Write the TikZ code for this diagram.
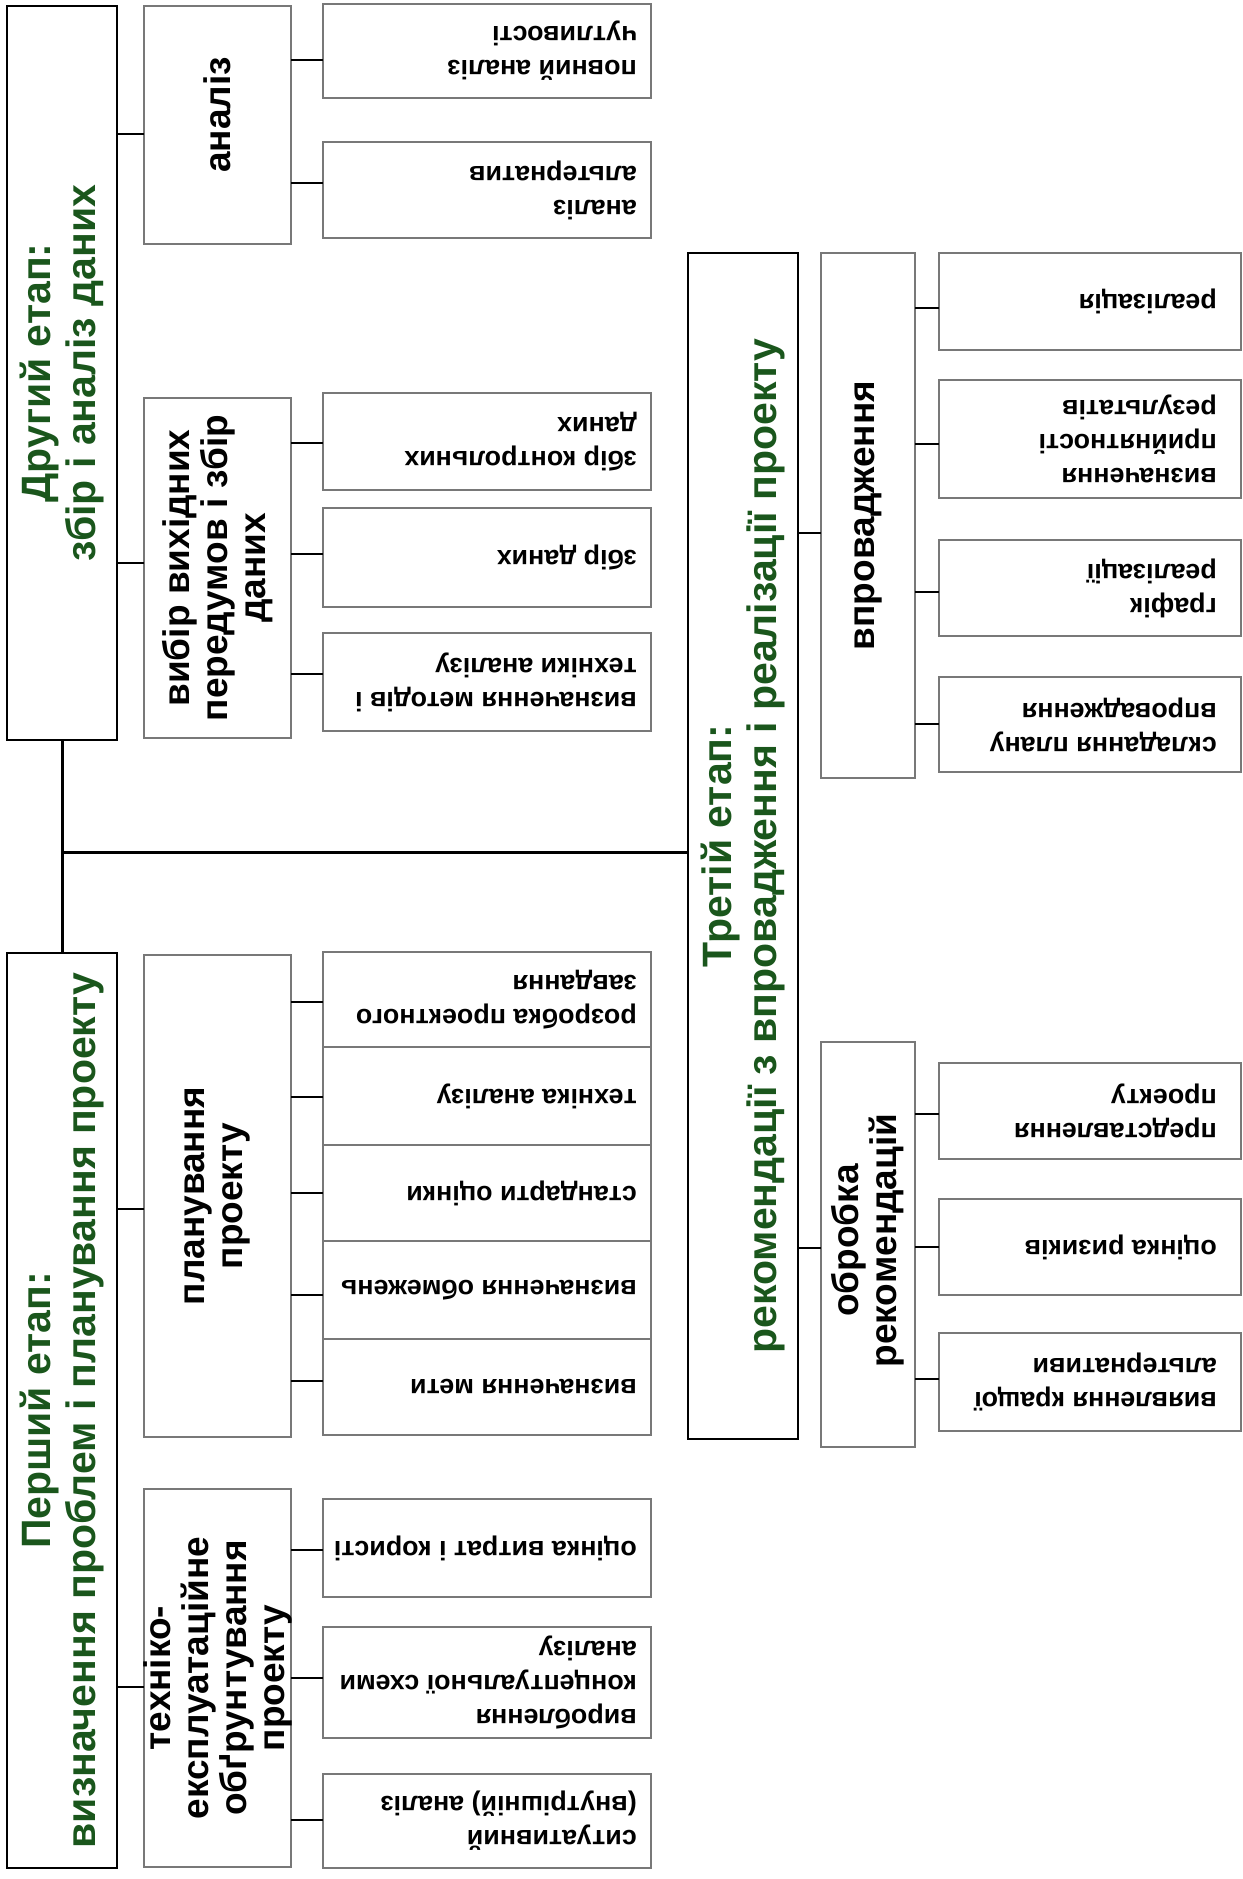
\documentclass[tikz,border=0pt]{standalone}
\usepackage{fontspec}
\setmainfont{Liberation Sans}
\definecolor{stagegreen}{HTML}{1A561C}
\definecolor{boxgray}{RGB}{120,120,120}
\newcommand{\mkbox}[6]{\node[#1, anchor=north west, minimum width={#5-#3}, minimum height={#6-#4}] (#2) at (#3,#4) {};}
\newcommand{\leaftxt}[3]{\node[leaftext, anchor=west] at ([xshift=-#2]#1.east) {#3};}
\begin{document}
\begin{tikzpicture}[x=1pt,y=-1pt,
  stagebox/.style={draw=black, line width=2pt, inner sep=0pt, outer sep=0pt},
  midbox/.style={draw=boxgray, line width=1.6pt, inner sep=0pt, outer sep=0pt},
  leafbox/.style={draw=boxgray, line width=1.6pt, inner sep=0pt, outer sep=0pt},
  conn/.style={draw=black, line width=2.5pt},
  trunkline/.style={draw=black, line width=3pt},
  stagetext/.style={rotate=90, align=center, text=stagegreen, inner sep=0pt,
    font=\fontsize{41}{45}\selectfont\bfseries},
  midtext/.style={rotate=90, align=center, text=black, inner sep=0pt,
    font=\fontsize{37}{38}\selectfont\bfseries},
  leaftext/.style={rotate=180, align=left, text=black, inner sep=0pt,
    font=\fontsize{26.8}{34}\selectfont\bfseries}]
\useasboundingbox (0,0) rectangle (1242,1879);

% ---- stage boxes
\mkbox{stagebox}{s2}{7}{6}{117}{740}
\mkbox{stagebox}{s1}{7}{953}{117}{1868}
\mkbox{stagebox}{s3}{688}{253}{798}{1439}

% ---- middle boxes
\mkbox{midbox}{man}{144}{6}{291}{244}
\mkbox{midbox}{mvy}{144}{398}{291}{738}
\mkbox{midbox}{mpl}{144}{955}{291}{1437}
\mkbox{midbox}{mte}{144}{1489}{291}{1867}
\mkbox{midbox}{mvp}{821}{253}{915}{778}
\mkbox{midbox}{mob}{821}{1042}{915}{1447}

% ---- leaf boxes, left column
\mkbox{leafbox}{l1}{323}{4}{651}{98}
\mkbox{leafbox}{l2}{323}{142}{651}{238}
\mkbox{leafbox}{l3}{323}{393}{651}{490}
\mkbox{leafbox}{l4}{323}{508}{651}{607}
\mkbox{leafbox}{l5}{323}{633}{651}{731}
\mkbox{leafbox}{l6}{323}{952}{651}{1047}
\mkbox{leafbox}{l7}{323}{1047}{651}{1145}
\mkbox{leafbox}{l8}{323}{1145}{651}{1241}
\mkbox{leafbox}{l9}{323}{1241}{651}{1339}
\mkbox{leafbox}{l10}{323}{1339}{651}{1435}
\mkbox{leafbox}{l11}{323}{1499}{651}{1597}
\mkbox{leafbox}{l12}{323}{1627}{651}{1738}
\mkbox{leafbox}{l13}{323}{1774}{651}{1868}

% ---- leaf boxes, right column
\mkbox{leafbox}{r1}{939}{253}{1241}{350}
\mkbox{leafbox}{r2}{939}{380}{1241}{498}
\mkbox{leafbox}{r3}{939}{540}{1241}{636}
\mkbox{leafbox}{r4}{939}{677}{1241}{772}
\mkbox{leafbox}{r5}{939}{1063}{1241}{1159}
\mkbox{leafbox}{r6}{939}{1199}{1241}{1295}
\mkbox{leafbox}{r7}{939}{1333}{1241}{1431}

% ---- stage texts
\node[stagetext] at (s2) {Другий етап:\\збір і аналіз даних};
\node[stagetext] at (s1) {Перший етап:\\визначення проблем і планування проекту};
\node[stagetext] at (s3) {Третій етап:\\рекомендації з впровадження і реалізації проекту};

% ---- middle texts
\node[midtext] at ([yshift=10pt]man.center) {аналіз};
\node[midtext] at (mvy) {вибір вихідних\\передумов і збір\\даних};
\node[midtext] at (mpl) {планування\\проекту};
\node[midtext] at (mte) {техніко-\\експлуатаційне\\обґрунтування\\проекту};
\node[midtext] at (mvp) {впровадження};
\node[midtext] at ([yshift=4pt]mob.center) {обробка\\рекомендацій};

% ---- leaf texts
\leaftxt{l1}{14pt}{повний аналіз\\чутливості}
\leaftxt{l2}{14pt}{аналіз\\альтернатив}
\leaftxt{l3}{14pt}{збір контрольних\\даних}
\leaftxt{l4}{14pt}{збір даних}
\leaftxt{l5}{14pt}{визначення методів і\\техніки аналізу}
\leaftxt{l6}{14pt}{розробка проектного\\завдання}
\leaftxt{l7}{14pt}{техніка аналізу}
\leaftxt{l8}{14pt}{стандарти оцінки}
\leaftxt{l9}{14pt}{визначення обмежень}
\leaftxt{l10}{14pt}{визначення мети}
\leaftxt{l11}{14pt}{оцінка витрат і користі}
\leaftxt{l12}{14pt}{вироблення\\концептуальної схеми\\аналізу}
\leaftxt{l13}{14pt}{ситуативний\\(внутрішній) аналіз}
\leaftxt{r1}{24pt}{реалізація}
\leaftxt{r2}{24pt}{визначення\\прийнятності\\результатів}
\leaftxt{r3}{24pt}{графік\\реалізації}
\leaftxt{r4}{24pt}{складання плану\\впровадження}
\leaftxt{r5}{24pt}{представлення\\проекту}
\leaftxt{r6}{24pt}{оцінка ризиків}
\leaftxt{r7}{24pt}{виявлення кращої\\альтернативи}

% ---- connector heights
\coordinate (hmain) at (0,852);
\coordinate (c2a) at (0,134);
\coordinate (c2b) at (0,563);
\coordinate (c1a) at (0,1209);
\coordinate (c1b) at (0,1687);
\coordinate (c3a) at (0,533);
\coordinate (c3b) at (0,1248);
\coordinate (k1) at (0,60);
\coordinate (k2) at (0,183);
\coordinate (k3) at (0,443);
\coordinate (k4) at (0,554);
\coordinate (k5) at (0,674);
\coordinate (k6) at (0,1002);
\coordinate (k7) at (0,1097);
\coordinate (k8) at (0,1193);
\coordinate (k9) at (0,1295);
\coordinate (k10) at (0,1381);
\coordinate (k11) at (0,1550);
\coordinate (k12) at (0,1678);
\coordinate (k13) at (0,1820);
\coordinate (q1) at (0,308);
\coordinate (q2) at (0,444);
\coordinate (q3) at (0,592);
\coordinate (q4) at (0,724);
\coordinate (q5) at (0,1114);
\coordinate (q6) at (0,1247);
\coordinate (q7) at (0,1379);

% ---- trunk
\draw[trunkline] (s2.south) -- (s1.north);
\draw[trunkline] (s2.south |- hmain) -- (s3.west |- hmain);

% ---- stage to middle
\draw[conn] (s2.east |- c2a) -- (man.west |- c2a);
\draw[conn] (s2.east |- c2b) -- (mvy.west |- c2b);
\draw[conn] (s1.east |- c1a) -- (mpl.west |- c1a);
\draw[conn] (s1.east |- c1b) -- (mte.west |- c1b);
\draw[conn] (s3.east |- c3a) -- (mvp.west |- c3a);
\draw[conn] (s3.east |- c3b) -- (mob.west |- c3b);

% ---- middle to leaves
\draw[conn] (man.east |- k1) -- (l1.west |- k1);
\draw[conn] (man.east |- k2) -- (l2.west |- k2);
\draw[conn] (mvy.east |- k3) -- (l3.west |- k3);
\draw[conn] (mvy.east |- k4) -- (l4.west |- k4);
\draw[conn] (mvy.east |- k5) -- (l5.west |- k5);
\draw[conn] (mpl.east |- k6) -- (l6.west |- k6);
\draw[conn] (mpl.east |- k7) -- (l7.west |- k7);
\draw[conn] (mpl.east |- k8) -- (l8.west |- k8);
\draw[conn] (mpl.east |- k9) -- (l9.west |- k9);
\draw[conn] (mpl.east |- k10) -- (l10.west |- k10);
\draw[conn] (mte.east |- k11) -- (l11.west |- k11);
\draw[conn] (mte.east |- k12) -- (l12.west |- k12);
\draw[conn] (mte.east |- k13) -- (l13.west |- k13);
\draw[conn] (mvp.east |- q1) -- (r1.west |- q1);
\draw[conn] (mvp.east |- q2) -- (r2.west |- q2);
\draw[conn] (mvp.east |- q3) -- (r3.west |- q3);
\draw[conn] (mvp.east |- q4) -- (r4.west |- q4);
\draw[conn] (mob.east |- q5) -- (r5.west |- q5);
\draw[conn] (mob.east |- q6) -- (r6.west |- q6);
\draw[conn] (mob.east |- q7) -- (r7.west |- q7);
\end{tikzpicture}
\end{document}
